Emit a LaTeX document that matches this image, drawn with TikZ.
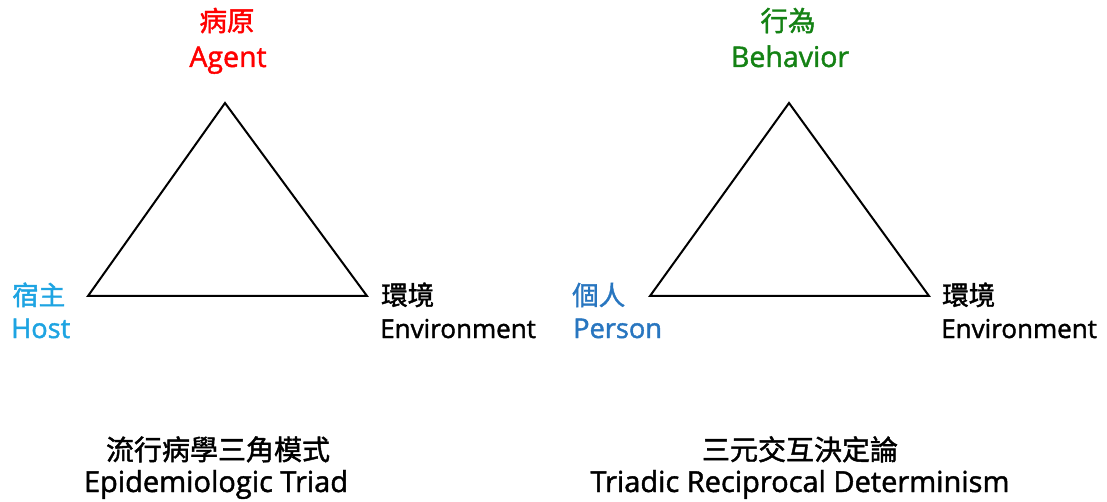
\documentclass[tikz,border=0pt]{standalone}
\usepackage{fontspec}
\setmainfont{Open Sans}[FakeBold=1.5]
\newfontfamily\cjk{Noto Sans CJK TC}[FakeBold=1.5]
\definecolor{agentred}{RGB}{255,0,0}
\definecolor{hostblue}{RGB}{30,164,226}
\definecolor{personblue}{RGB}{40,118,192}
\definecolor{behgreen}{RGB}{20,130,20}
\begin{document}
\begin{tikzpicture}[x=1pt,y=-1pt,
  lbl/.style={inner sep=0pt,font=\fontsize{26}{30}\selectfont},
  lbltop/.style={inner sep=0pt,font=\fontsize{28.5}{32}\selectfont},
  lblside/.style={inner sep=0pt,font=\fontsize{27.2}{32}\selectfont},
  lblzh/.style={inner sep=0pt,font=\fontsize{26.5}{30}\cjk},
  lbltopzh/.style={inner sep=0pt,font=\fontsize{27.5}{30}\cjk},
  captxt/.style={inner sep=0pt,font=\fontsize{29}{34}\selectfont},
  capzh/.style={inner sep=0pt,font=\fontsize{28}{34}\cjk},
  tri/.style={draw=black,line width=2pt,line join=miter}]
\useasboundingbox[fill=white] (0,0) rectangle (1107,502);
% triangle 1
\coordinate (A1) at (225,103);
\coordinate (H1) at (88,296);
\coordinate (E1) at (367,296);
\draw[tri] (A1) -- (H1) -- (E1) -- cycle;
% triangle 2
\coordinate (B2) at (789,103);
\coordinate (P2) at (650,296);
\coordinate (E2) at (929,296);
\draw[tri] (B2) -- (P2) -- (E2) -- cycle;
% labels triad 1
\node[lbltopzh,text=agentred,anchor=base] (agentzh) at (227,31) {病原};
\node[lbltop,text=agentred,anchor=base] (agent) at (228,67) {Agent};
\node[lblzh,text=hostblue,anchor=base west] (hostzh) at (12,305) {宿主};
\node[lblside,text=hostblue,anchor=base west] (host) at (11,338) {Host};
\node[lblzh,anchor=base west] (env1zh) at (381,305) {環境};
\node[lbl,anchor=base west] (env1) at (380,338) {Environment};
\node[capzh,anchor=base] (t1zh) at (218,460) {流行病學三角模式};
\node[captxt,anchor=base] (t1) at (216,492) {Epidemiologic Triad};
% labels triad 2
\node[lbltopzh,text=behgreen,anchor=base] (behzh) at (788,31) {行為};
\node[lbltop,text=behgreen,anchor=base] (beh) at (790,67) {Behavior};
\node[lblzh,text=personblue,anchor=base west] (perzh) at (572,305) {個人};
\node[lblside,text=personblue,anchor=base west] (per) at (573,338) {Person};
\node[lblzh,anchor=base west] (env2zh) at (942,305) {環境};
\node[lbl,anchor=base west] (env2) at (941,338) {Environment};
\node[capzh,anchor=base] (t2zh) at (800,460) {三元交互決定論};
\node[captxt,anchor=base] (t2) at (800,492) {Triadic Reciprocal Determinism};
\end{tikzpicture}
\end{document}
